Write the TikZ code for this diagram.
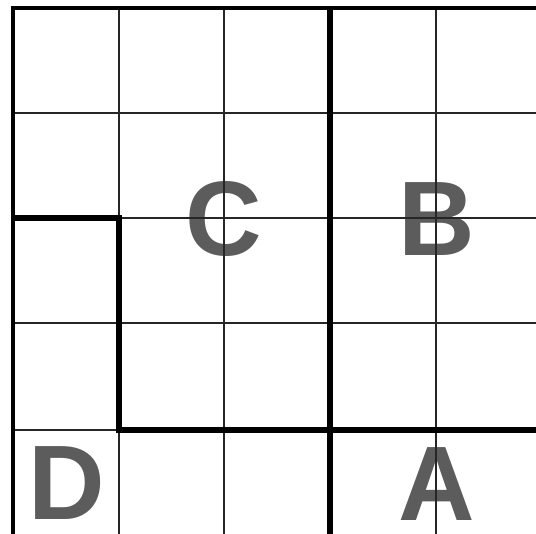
\documentclass[tikz,border=0pt]{standalone}
\usepackage{fontspec}
\setmainfont{Liberation Sans}
\definecolor{letgray}{RGB}{92,92,92}
\begin{document}
\begin{tikzpicture}[x=1pt,y=-1pt,
  thinline/.style={line width=1.4pt, black!85},
  outer/.style={line width=3.5pt, black},
  heavy/.style={line width=5.5pt, black},
  letter/.style={text=letgray, font=\bfseries\fontsize{106}{106}\selectfont, inner sep=0pt}]
\useasboundingbox (0,0) rectangle (536,534);
\fill[white] (0,0) rectangle (536,534);
% letters
\node[letter] (C) at (224,219) {C};
\node[letter] (B) at (437,219) {B};
\node[letter] (D) at (67,483) {D};
\node[letter] (A) at (437,484) {A};
% thin grid
\foreach \x in {119,224,436} \draw[thinline] (\x,8) -- (\x,534);
\foreach \y in {113,218,323,430} \draw[thinline] (13,\y) -- (536,\y);
% heavy lines
\draw[outer] (13,534) -- (13,8) -- (536,8);
\draw[heavy] (330,8) -- (330,534);
\draw[heavy] (13,218) -- (119,218) -- (119,430) -- (536,430);
\end{tikzpicture}
\end{document}
